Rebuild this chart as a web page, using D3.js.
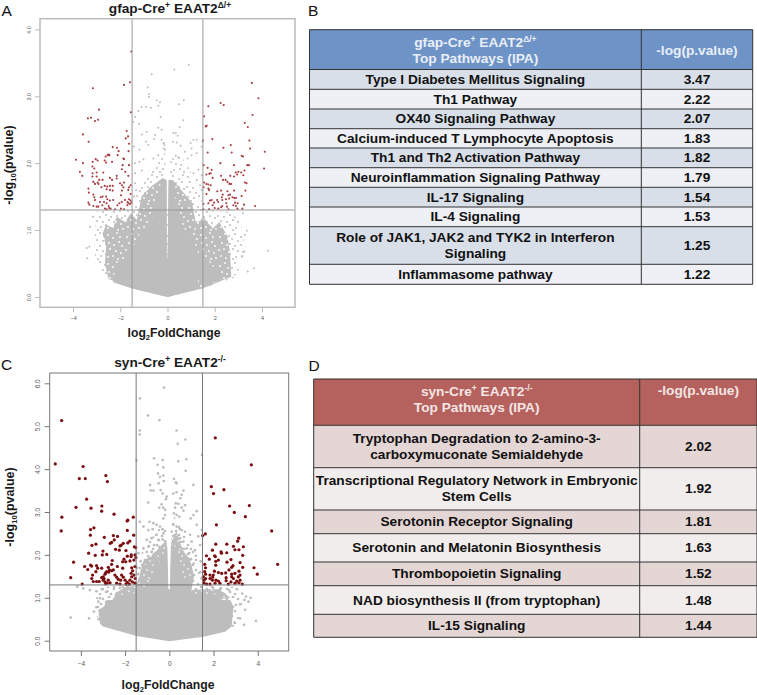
<!DOCTYPE html>
<html><head><meta charset="utf-8">
<script src="https://cdn.jsdelivr.net/npm/d3@7/dist/d3.min.js"></script>
<style>html,body{margin:0;padding:0;background:#fff}svg{display:block}text{font-family:"Liberation Sans",Arial,sans-serif}</style>
</head><body><div id="c"></div>
<script>
// ---------- Panel A data (log2FC, -log10 p) ----------
const aRed=[[-1.53,3.67],[-1.59,3.21],[-1.84,3.17],[-3.16,3.12],[-2.9,2.8],[-3.37,2.67],[-3.24,2.68],[-2.94,2.65],[-3.07,2.63],[-1.55,2.76],[-1.73,2.48],[-1.67,2.4],[-1.77,2.37],[-3.58,2.43],[-3.34,2.32],[-1.63,2.29],[-2.32,2.24],[-2.14,2.23],[-2.07,2.18],[-1.65,2.18],[-2.49,2.13],[-2.53,2.12],[-2.46,2.12],[-2.62,2.1],[-2.11,2.12],[-1.87,2.07],[-1.84,2.06],[-3.88,2.05],[-3.58,2],[-3.04,2.06],[-2.96,2.04],[-3.17,2.02],[-2.66,2.04],[-2.6,2.01],[-2.35,2.02],[-1.9,1.97],[-1.63,1.97],[-3.18,1.95],[-3.1,1.92],[-1.93,1.91],[-2.72,1.86],[-3.71,1.87],[-3.61,1.81],[-3.17,1.85],[-3,1.86],[-3,1.8],[-3.18,1.8],[-1.66,1.81],[-1.79,1.87],[-2.15,1.81],[-2.44,1.78],[-2.35,1.75],[-2.75,1.75],[-2.89,1.75],[-2.15,1.77],[-3.14,1.72],[-2.96,1.71],[-2.92,1.69],[-3.07,1.69],[-2.66,1.66],[-2.55,1.65],[-2.44,1.66],[-2.32,1.66],[-2.8,1.64],[-2.01,1.7],[-1.84,1.71],[-1.93,1.67],[-1.87,1.64],[-1.56,1.67],[-1.63,1.64],[-3.35,1.62],[-3.33,1.56],[-2.58,1.61],[-2.44,1.6],[-2.32,1.59],[-1.93,1.59],[-1.66,1.6],[-1.97,1.52],[-1.56,1.54],[-3.14,1.53],[-3.1,1.49],[-3.07,1.45],[-2.83,1.49],[-2.75,1.5],[-2.6,1.5],[-2.55,1.46],[-2.86,1.42],[-2.69,1.42],[-2.44,1.44],[-2.3,1.45],[-3.35,1.41],[-3.31,1.38],[-3.14,1.36],[-3,1.35],[-2.76,1.37],[-2.58,1.4],[-2.49,1.36],[-2.41,1.32],[-2.22,1.31],[-2.12,1.37],[-2.04,1.4],[-1.94,1.42],[-1.8,1.45],[-1.97,1.32],[-1.84,1.31],[-1.69,1.42],[-1.63,1.46],[-1.56,1.44],[-1.66,1.4],[-1.59,1.39],[-1.53,1.41],[-1.7,1.37],[-2.65,1.32],[-2.58,1.31],[-2.47,1.33],[-2.93,1.35],[3.57,3.2],[3.85,2.97],[2.25,2.9],[2.38,2.87],[1.73,2.85],[3.6,2.72],[1.55,2.7],[3.27,2.6],[3.4,2.54],[1.66,2.56],[1.62,2.55],[3.47,2.34],[1.9,2.36],[1.5,2.34],[2.68,2.27],[2.37,2.23],[3.5,2.22],[4.12,2.17],[1.7,2.16],[2.72,2.16],[3.14,2.11],[3.2,2.1],[2.24,2],[3.45,1.97],[3.38,1.97],[2.82,1.97],[4.09,1.92],[1.53,1.97],[1.7,1.93],[1.87,1.9],[1.65,1.83],[1.77,1.84],[1.83,1.85],[1.91,1.78],[3.26,1.89],[3.12,1.86],[3,1.87],[2.89,1.86],[2.95,1.83],[3.21,1.82],[2.82,1.8],[2.66,1.81],[2.27,1.81],[2.35,1.75],[2.46,1.75],[2.54,1.72],[2.62,1.69],[2.69,1.69],[3.28,1.71],[3.35,1.7],[1.55,1.71],[1.65,1.69],[1.73,1.68],[1.83,1.67],[1.53,1.64],[1.73,1.62],[1.76,1.6],[2.11,1.58],[2.27,1.59],[2.54,1.58],[2.82,1.59],[3.3,1.59],[1.65,1.54],[2.65,1.53],[2.34,1.53],[2.58,1.52],[3.14,1.51],[2.3,1.49],[2.75,1.49],[2.83,1.48],[2.9,1.48],[1.8,1.44],[1.87,1.45],[2.1,1.45],[1.97,1.41],[2.15,1.42],[2.32,1.45],[2.48,1.46],[2.61,1.47],[2.86,1.41],[2.97,1.4],[2.79,1.37],[2.49,1.4],[1.52,1.39],[1.73,1.4],[1.91,1.37],[3.24,1.38],[3.71,1.36],[2.32,1.36],[2.52,1.35],[2.9,1.36],[3.17,1.32],[2.15,1.32],[2.27,1.34],[2.58,1.31],[1.76,1.31],[1.52,1.31],[2.96,1.32],[2.0,1.33]];
const aGrey=[[.9,3.47],[.29,3.4],[.69,2.94],[.49,2.88],[.67,2.64],[.52,2.54],[.25,2.45],[.35,2.45],[.43,2.41],[1.1,2.35],[1.24,2.35],[.98,2.3],[.23,2.32],[.39,2.31],[.56,2.26],[1.48,2.32],[1.45,2.25],[1.02,2.22],[.74,2.17],[1.24,2.15],[1.02,2.12],[.85,2.07],[.35,2.11],[.46,2.09],[1.31,1.9],[1.1,1.85],[1.45,1.82],[1.24,1.75],[1.38,1.67],[1.45,1.6],[-.67,3.33],[-.84,3.13],[-.78,3.03],[-.78,2.99],[-.46,2.94],[-.32,2.91],[-.39,2.86],[-.7,2.83],[-.91,2.84],[-1.09,2.84],[-1.23,2.78],[-1.37,2.69],[-1.45,2.62],[-1.2,2.59],[-.29,2.69],[-.39,2.53],[-.25,2.5],[-.88,2.47],[-1.08,2.43],[-.53,2.42],[-.57,2.36],[-.25,2.35],[-.15,2.3],[-.15,2.22],[-.91,2.32],[-.81,2.27],[-1.42,2.25],[-1.19,2.2],[-.39,2.12],[-.6,2.07],[-1.02,2.06],[-1.19,2.02],[-1.37,2],[-1.09,1.89],[-1.37,1.85],[-1.37,1.7],[-1.33,1.6],[-1.42,1.5],[4.25,.69],[3.67,.43],[3.4,.38],[-3.42,.73],[-3.31,.75],[-3.4,.58],[-3.28,1.05],[3.36,.99],[3.2,1.25],[3.28,.93],[3.15,.6],[-.17,2.3],[-.13,2.27],[-.1,2.2],[3.25,.68],[-3.15,1.2]];
const aFringe=[[-2.8,.33],[-3.05,.5],[-3.1,.85],[-3,1.28],[-1.5,1.32],[-1.4,1.5],[-1.15,1.7],[-.95,1.85],[-.6,1.95],[-.3,2.15],[-.1,2.2],[-.05,1.3],[.05,1.3],[.08,2],[.3,2.12],[.6,2.1],[.95,1.9],[1.3,1.6],[1.45,1.45],[1.45,1.3],[2.7,1.27],[3.1,1.1],[3.3,.75],[3.05,.42],[2.79,.28],[1.52,.13],[0,0],[-1.52,.13]];
const aMid=[[-2.5,.27],[-2.65,.5],[-2.6,.75],[-2.75,.95],[-2.6,1.08],[-2.3,1.03],[-2.15,1.2],[-1.8,1.12],[-1.55,1.25],[-1.3,1.15],[-1.1,1.5],[-.7,1.65],[-.2,1.78],[-.04,1.75],[-.03,.58],[.01,.58],[.05,1.75],[.3,1.72],[.7,1.55],[1.05,1.4],[1.2,1.1],[1.55,1.18],[1.9,1.02],[2.2,1.12],[2.55,.9],[2.65,.65],[2.7,.3],[1.52,.13],[0,0],[-1.52,.13]];
const aSolid=[[-1.52,.13],[-2.3,.22],[-2.2,.42],[-1.8,.55],[-1.65,.75],[-1.3,.8],[-1.15,1],[-.75,1.05],[-.5,1.4],[-.25,1.75],[-.04,1.75],[-.03,.58],[0,.58],[.05,1.75],[.25,1.75],[.38,1.3],[.8,.95],[1.1,.85],[1.3,.65],[1.7,.55],[2,.42],[2.35,.28],[1.5,.14],[1.32,.3],[1.22,.12],[0,0]];

// ---------- Panel C data ----------
const cRed=[[-4.87,5.13],[-5.16,4.12],[-3.9,4.06],[-4.07,3.78],[-3.8,3.78],[-2.87,3.85],[-2.8,3.71],[-3.74,3.3],[-4.22,3.11],[-3.05,3.14],[-3.06,3.02],[-3.54,3.09],[-2.5,2.95],[-4.86,2.88],[-4.89,2.56],[-1.63,2.88],[-1.88,2.81],[-1.91,2.79],[-3.41,2.63],[-3.56,2.59],[-1.9,2.57],[-3.57,2.46],[-1.61,2.46],[-2.94,2.41],[-2.53,2.45],[-2.34,2.43],[-2.67,2.27],[-2.61,2.29],[-2.49,2.35],[-1.79,2.32],[-1.88,2.28],[-2.08,2.27],[-2.17,2.23],[-2.23,2.21],[-3.32,2.25],[-3.5,2.22],[-1.58,2.19],[-1.52,2.17],[-2.43,2.13],[-2.26,2.11],[-1.96,2.1],[-3,2.09],[-3.65,2.04],[-3.03,2],[-2.83,2.01],[-3.35,1.99],[-1.72,2],[-1.55,2],[-1.51,1.94],[-1.9,1.97],[-1.73,1.96],[-2.05,1.9],[-2.11,1.84],[-1.97,1.84],[-1.78,1.86],[-2.58,1.87],[-4.33,1.83],[-1.6,1.88],[-3.56,1.76],[-3.51,1.74],[-2.61,1.78],[-3.83,1.73],[-3.69,1.66],[-3.29,1.75],[-3.24,1.69],[-3.06,1.69],[-2.76,1.71],[-2.35,1.73],[-2.11,1.69],[-1.7,1.7],[-1.55,1.73],[-2.53,1.65],[-3.32,1.61],[-3.47,1.53],[-4.46,1.47],[-3.51,1.45],[-3.44,1.38],[-3.29,1.38],[-3.17,1.38],[-3.94,1.32],[-2.99,1.49],[-2.91,1.55],[-2.83,1.61],[-2.71,1.65],[-2.61,1.63],[-2.99,1.41],[-2.91,1.37],[-2.81,1.34],[-2.68,1.35],[-3.06,1.47],[-2.76,1.41],[-2.46,1.53],[-2.38,1.48],[-2.31,1.43],[-2.16,1.53],[-2.08,1.48],[-2.2,1.41],[-2,1.41],[-2.23,1.32],[-1.9,1.36],[-1.78,1.41],[-1.7,1.49],[-1.73,1.57],[-1.66,1.63],[-1.6,1.53],[-1.54,1.45],[-1.67,1.37],[-1.81,1.32],[-1.96,1.32],[-1.55,1.34],[-2.38,1.34],[-2.95,1.45],[-2.88,1.58],[-2.88,1.33],[-2.74,1.6],[2.08,4.73],[3.71,4.1],[1.9,3.59],[2.47,3.52],[2,3.43],[2.73,3.14],[3.62,3.15],[2.94,2.99],[3.44,2.89],[2.13,2.7],[4.63,2.56],[1.63,2.49],[1.51,2.45],[3.14,2.39],[3.09,2.32],[2.1,2.25],[2.6,2.25],[2.9,2.2],[3.35,2.19],[2.97,2.12],[3.15,2.12],[1.95,2.11],[2.34,2.07],[2.36,2.04],[2.6,2.05],[3.32,1.99],[1.68,1.98],[2.05,1.98],[2.08,1.96],[1.81,1.9],[2.22,1.88],[2.1,1.85],[2.61,1.83],[2.79,1.89],[3.2,1.82],[1.6,1.78],[2.1,1.76],[4.9,1.78],[2.88,1.75],[2.82,1.71],[1.64,1.7],[3.32,1.71],[3.83,1.7],[2.7,1.65],[2.04,1.62],[1.6,1.61],[1.64,1.55],[3.98,1.55],[2.22,1.59],[2.37,1.57],[2.55,1.58],[2.82,1.55],[2.97,1.57],[3.15,1.62],[3.2,1.53],[1.84,1.53],[1.99,1.53],[1.54,1.49],[1.64,1.45],[1.84,1.45],[1.95,1.41],[2.11,1.41],[2.22,1.39],[2.57,1.47],[2.82,1.49],[2.9,1.45],[3.12,1.49],[3.2,1.41],[2.57,1.4],[3.05,1.39],[2.07,1.34],[1.84,1.32],[2.29,1.34],[2.67,1.32],[2.97,1.34],[3.15,1.35],[3.3,1.32],[1.57,1.41],[1.57,1.34],[1.69,1.32],[1.96,1.48],[2.79,1.37]];
const cGrey=[[-.24,5.9],[-1.33,5.65],[-.96,5.25],[-.45,5.14],[-1.34,4.9],[-1.34,4.81],[.33,4.9],[.73,4.69],[.38,4.59],[1.48,4.33],[-1.48,4.2],[-.69,4.25],[-.3,4.21],[.41,4.18],[.77,4.23],[-.53,4.1],[.74,3.96],[-.27,4.04],[-.51,3.9],[-.27,3.85],[-.42,3.82],[.21,3.77],[.3,3.69],[.33,3.67],[-.25,3.72],[-.48,3.67],[1.09,3.63],[-.87,3.63],[-.84,3.5],[-.72,3.5],[-.39,3.51],[-.3,3.43],[.64,3.5],[.18,3.43],[.33,3.46],[.56,3.4],[-.12,3.36],[.5,3.32],[-.15,3.3],[-.95,3.22],[.29,3.2],[.41,3.19],[-.35,3.18],[-.27,3.1],[-.45,3.1],[.71,3.16],[.56,3.1],[.26,3.1],[1.24,3.02],[.64,3.03],[-.19,3.05],[-.19,2.93],[.21,2.97],[.33,2.93],[.45,2.89],[1.09,2.93],[.97,2.85],[-1.33,2.77],[-.9,2.77],[-.27,2.85],[-1.17,2.66],[-.72,2.74],[-.95,2.58],[-.75,2.6],[-.57,2.7],[-.42,2.66],[-.31,2.6],[.18,2.7],[.33,2.66],[.48,2.6],[.71,2.54],[1.24,2.7],[1.47,2.58],[1.31,2.43],[.94,2.47],[-.57,2.47],[-.27,2.5],[.11,2.54],[.26,2.47],[-1.02,2.35],[-.8,2.39],[-.5,2.35],[-.3,2.36],[.48,2.39],[.64,2.31],[1.01,2.31],[-1.17,2.15],[-.95,2.19],[-.69,2.23],[-.45,2.19],[-.27,2.23],[.18,2.31],[.33,2.23],[.56,2.15],[.79,2.15],[1.16,2.11],[1.39,2.23],[-1.4,2.04],[-1.02,2.07],[-.8,2.07],[.9,2.04],[1.2,1.98],[1.42,1.85],[1.1,1.8],[.98,1.9],[-1.3,1.85],[-1.15,1.8],[-1.45,1.7],[-1.42,1.55],[1.4,1.6],[1.45,1.45],[-4.46,.54],[-3.63,.52],[3.92,.46],[3.38,.37],[-3.41,.68],[-4.16,1.26],[-3.89,1.22],[3.58,.91],[3.68,1],[3.47,1.03],[3.43,.72],[3.2,.52],[-3.59,1.18],[-3.13,.99],[-3.21,.91],[-3.3,1.15],[-3.05,1.2],[-2.8,1.15],[-2.5,1.25],[-2.1,1.25],[-1.9,1.28],[1.95,1.25],[2.3,1.2],[2.7,1.18],[3.05,1.2],[3.3,1.1],[3.4,.95],[3.2,.85],[-3.3,.78],[-3.2,.5],[2.95,.42]];
const cFringe=[[-1.5,1.3],[-1.4,1.8],[-1.15,2.2],[-.85,2.35],[-.5,2.6],[-.15,2.75],[-.05,1.05],[.05,1.05],[.1,2.75],[.35,3],[.7,2.45],[1.05,2.25],[1.3,1.8],[1.45,1.3],[3.1,1.25],[3.3,.9],[3.1,.4],[2.8,.3],[0,0],[-3,.33],[-3.3,.6],[-3.3,1],[-3,1.25]];
const cMid=[[-2.46,1.1],[-2,1.25],[-1.5,1.28],[-1.33,1.57],[-1.18,1.85],[-.8,2],[-.57,2.1],[-.12,2.35],[-.06,1.2],[.04,1.2],[.09,2.3],[.33,2.55],[.6,2.1],[.95,1.9],[1.12,1.5],[1,1.18],[1.54,1.2],[2.29,1.2],[2.75,1],[1.5,.9],[-1.5,.9]];
const cSolid=[[-3,.33],[-3.14,.4],[-3.21,.72],[-2.95,.8],[-2.83,.95],[-2.5,.95],[-2.46,1.1],[-2,1.02],[-1.55,1.12],[-1.33,1.2],[-.9,1.25],[-.6,1.7],[-.3,1.95],[-.09,2.2],[-.03,1],[.02,1],[.07,2.2],[.28,2.2],[.5,1.6],[.9,1.3],[1.05,1.1],[1.54,1.05],[2.1,1.08],[2.4,.95],[2.75,.95],[2.9,.8],[2.82,.33],[2.52,.21],[1.54,.09],[0,-.01],[-1.48,.11]];

const xTicks=[-4,-2,0,2,4];
const aYTicks=[0,1,2,3,4];
const cYTicks=[0,1,2,3,4,5,6];

// hand-placed stipple texture tiles for the over-plotted point clouds
const stippleDots=[[2,3],[7,1],[12,4],[18,2],[24,5],[28,1],[4,8],[10,9],[15,7],[21,9],[27,8],[1,13],[7,14],[13,12],[18,14],[24,13],[29,15],[4,18],[10,19],[16,17],[21,19],[26,20],[2,23],[8,24],[13,22],[19,25],[25,24],[5,27],[16,27],[29,27]];
const speckDots=[[3,5],[8,2],[11,7],[15,3],[20,6],[24,1],[27,5],[5,11],[10,13],[16,11],[21,13],[26,10],[29,14],[2,18],[7,17],[12,20],[17,17],[23,19],[28,21],[4,24],[9,26],[15,25],[20,24],[25,27],[30,26]];

// ---------- Table data ----------
const bPathways=["Type I Diabetes Mellitus Signaling","Th1 Pathway","OX40 Signaling Pathway","Calcium-induced T Lymphocyte Apoptosis","Th1 and Th2 Activation Pathway","Neuroinflammation Signaling Pathway","IL-17 Signaling","IL-4 Signaling","Role of JAK1, JAK2 and TYK2 in Interferon\nSignaling","Inflammasome pathway"];
const bValues=["3.47","2.22","2.07","1.83","1.82","1.79","1.54","1.53","1.25","1.22"];
const dPathways=["Tryptophan Degradation to 2-amino-3-\ncarboxymuconate Semialdehyde","Transcriptional Regulatory Network in Embryonic\nStem Cells","Serotonin Receptor Signaling","Serotonin and Melatonin Biosynthesis","Thrombopoietin Signaling","NAD biosynthesis II (from tryptophan)","IL-15 Signaling"];
const dValues=["2.02","1.92","1.81","1.63","1.52","1.48","1.44"];
const bRowEdges=[69.5,89.3,109,128.7,148,167.7,187.3,207,226.7,264.3,284.3];
const dRowEdges=[425.3,467.7,510,533.7,562,585.7,614.3,637.3];

const svg=d3.select("#c").append("svg").attr("width",757).attr("height",695);
const defs=svg.append("defs");
defs.append("filter").attr("id","soft").append("feGaussianBlur").attr("stdDeviation",.3);
function tile(id,base,dots,r,col){
  const p=defs.append("pattern").attr("id",id).attr("patternUnits","userSpaceOnUse").attr("width",31).attr("height",29);
  if(base)p.append("rect").attr("width",31).attr("height",29).attr("fill",base);
  p.selectAll("circle").data(dots).join("circle").attr("cx",d=>d[0]).attr("cy",d=>d[1]).attr("r",r).attr("fill",col);
}
tile("stippleA",null,stippleDots,1,"#bdbdbd");
tile("stippleC",null,stippleDots,1.35,"#bdbdbd");
tile("speckA","#bebebe",speckDots,.9,"#fff");
tile("speckC","#bebebe",speckDots,.85,"#fff");

function rich(sel,parts,size){
  let shift=0;
  parts.forEach(([t,k])=>{
    const d=k==="sup"?-size*.38:k==="sub"?size*.25:0;
    sel.append("tspan").attr("dy",d-shift).attr("font-size",k?size*.62:size).text(t);
    shift=d;
  });
}
function volcano(o){
  const x=d3.scaleLinear().domain(o.xd).range(o.xr), y=d3.scaleLinear().domain(o.yd).range(o.yr);
  const g=svg.append("g");
  const ln=d3.line().x(d=>x(d[0])).y(d=>y(d[1])).curve(d3.curveLinearClosed);
  const pts=g.append("g").attr("filter","url(#soft)");
  o.clouds.forEach(([c,col])=>pts.append("path").attr("d",ln(c)).attr("fill",col));
  pts.selectAll("circle.g").data(o.grey).join("circle").attr("class","g").attr("cx",d=>x(d[0])).attr("cy",d=>y(d[1])).attr("r",o.rg).attr("fill","#bdbdbd");
  pts.selectAll("circle.r").data(o.red).join("circle").attr("class","r").attr("cx",d=>x(d[0])).attr("cy",d=>y(d[1])).attr("r",o.rr).attr("fill",o.redCol);
  [-1.5,1.5].forEach(v=>g.append("line").attr("x1",x(v)).attr("x2",x(v)).attr("y1",o.yr[0]).attr("y2",o.yr[1]).attr("stroke",o.lineCol).attr("stroke-width",1));
  g.append("line").attr("x1",o.xr[0]).attr("x2",o.xr[1]).attr("y1",y(1.3)).attr("y2",y(1.3)).attr("stroke",o.lineCol).attr("stroke-width",1);
  g.append("rect").attr("x",o.xr[0]).attr("y",o.yr[1]).attr("width",o.xr[1]-o.xr[0]).attr("height",o.yr[0]-o.yr[1]).attr("fill","none").attr("stroke",o.boxCol).attr("stroke-width",o.boxW);
  const ax=g.append("g").attr("transform",`translate(0,${o.yr[0]})`).call(d3.axisBottom(x).tickValues(xTicks).tickSize(o.tick).tickPadding(o.pad).tickFormat(d=>String(d).replace("-","\u2212")));
  const ay=g.append("g").attr("transform",`translate(${o.xr[0]},0)`).call(d3.axisLeft(y).tickValues(o.yTicks).tickSize(o.tick).tickPadding(o.pad));
  [ax,ay].forEach(a=>{a.select(".domain").remove();a.selectAll("line").attr("stroke",o.boxCol);a.selectAll("text").attr("fill","#555").attr("font-size",o.tickFont);});
  ay.selectAll("text").attr("transform",`rotate(-90 ${-o.tick-o.pad} 0)`).attr("text-anchor","middle").attr("x",-o.tick-o.pad).attr("dy",0);
  const t=svg.append("text").attr("x",o.titleX).attr("y",o.titleY).attr("text-anchor","middle").attr("font-weight","bold").attr("fill","#1a1a1a");
  rich(t,o.title,13.7);
  const xl=svg.append("text").attr("x",o.xlX).attr("y",o.xlY).attr("text-anchor","middle").attr("font-weight","bold").attr("fill","#1a1a1a");
  rich(xl,[["log"],["2","sub"],["FoldChange"]],12.2);
  const yl=svg.append("text").attr("transform",`translate(${o.ylX},${o.ylY}) rotate(-90)`).attr("text-anchor","middle").attr("font-weight","bold").attr("fill","#1a1a1a");
  rich(yl,[["-log"],["10","sub"],["(pvalue)"]],12.5);
}
function table(o){
  const g=svg.append("g");
  g.append("rect").attr("x",o.x0).attr("y",o.y0).attr("width",o.x2-o.x0).attr("height",o.edges[0]-o.y0).attr("fill",o.head);
  const rows=o.names.map((n,i)=>({n,v:o.vals[i],i,t:o.edges[i],b:o.edges[i+1]}));
  g.selectAll("rect.row").data(rows).join("rect").attr("class","row").attr("x",o.x0).attr("y",d=>d.t).attr("width",o.x2-o.x0).attr("height",d=>d.b-d.t).attr("fill",d=>d.i%2?o.alt:o.band);
  const cx0=(o.x0+o.x1)/2,cx1=(o.x1+o.x2)/2;
  rows.forEach(d=>{
    const lines=d.n.split("\n"),mid=(d.t+d.b)/2;
    lines.forEach((l,k)=>g.append("text").attr("x",cx0).attr("y",mid+4.6+(k-(lines.length-1)/2)*16).attr("text-anchor","middle").attr("font-weight","bold").attr("font-size",o.fs).attr("fill","#111").text(l));
    g.append("text").attr("x",cx1).attr("y",mid+4.6).attr("text-anchor","middle").attr("font-weight","bold").attr("font-size",o.fs).attr("fill","#111").text(d.v);
  });
  const h1=g.append("text").attr("x",cx0).attr("y",o.hy).attr("text-anchor","middle").attr("font-weight","bold").attr("fill",o.headText);
  rich(h1,o.hTitle,o.fs);
  g.append("text").attr("x",cx0).attr("y",o.hy+16).attr("text-anchor","middle").attr("font-weight","bold").attr("fill",o.headText).attr("font-size",o.fs).text("Top Pathways (IPA)");
  g.append("text").attr("x",cx1).attr("y",o.hvy).attr("text-anchor","middle").attr("font-weight","bold").attr("fill",o.headText).attr("font-size",o.fs).text("-log(p.value)");
  [o.y0,...o.edges].forEach(e=>g.append("line").attr("x1",o.x0).attr("x2",o.x2).attr("y1",e).attr("y2",e).attr("stroke","#333"));
  [o.x0,o.x1,o.x2].forEach(v=>g.append("line").attr("x1",v).attr("x2",v).attr("y1",o.y0).attr("y2",o.edges[o.edges.length-1]).attr("stroke","#333"));
}
volcano({xd:[-5.4,5.4],xr:[40,295],yd:[-.155,4.16],yr:[307.3,18.7],red:aRed,grey:aGrey,clouds:[[aFringe,"url(#stippleA)"],[aMid,"url(#speckA)"],[aSolid,"#bdbdbd"]],rg:1,rr:1.05,redCol:"#a83a3e",lineCol:"#999",boxCol:"#bbb",boxW:1.5,tick:5,pad:4,tickFont:5.5,yTicks:aYTicks,title:[["gfap-Cre"],["+","sup"],[" EAAT2"],["Δ/+","sup"]],titleX:170,titleY:13,xlX:174,xlY:337,ylX:13,ylY:165});
volcano({xd:[-5.41,5.4],xr:[49.7,288.7],yd:[-.24,6.24],yr:[651,373],red:cRed,grey:cGrey,clouds:[[cFringe,"url(#stippleC)"],[cMid,"url(#speckC)"],[cSolid,"#bdbdbd"]],rg:1.35,rr:1.6,redCol:"#7a0a0e",lineCol:"#777",boxCol:"#777",boxW:1,tick:5,pad:5,tickFont:6.5,yTicks:cYTicks,title:[["syn-Cre"],["+","sup"],[" EAAT2"],["-/-","sup"]],titleX:170,titleY:367,xlX:168,xlY:689,ylX:14,ylY:507});
table({x0:309.5,x1:641.3,x2:752.7,y0:29.7,edges:bRowEdges,names:bPathways,vals:bValues,head:"#6e93c6",band:"#d9dfe9",alt:"#eef0f6",headText:"#e9eff8",fs:13.7,hTitle:[["gfap-Cre"],["+","sup"],[" EAAT2"],["Δ/+","sup"]],hy:47,hvy:55});
table({x0:313.7,x1:639.7,x2:757,y0:379,edges:dRowEdges,names:dPathways,vals:dValues,head:"#b5615e",band:"#e3d6d5",alt:"#f2eded",headText:"#f3e6e4",fs:13.7,hTitle:[["syn-Cre"],["+","sup"],[" EAAT2"],["-/-","sup"]],hy:396,hvy:395});
[["A",1.5,15.5],["B",308,15.5],["C",1,370],["D",308.5,370.7]].forEach(([t,x,y])=>svg.append("text").attr("x",x).attr("y",y).attr("font-size",15.5).attr("fill","#111").text(t));
</script></body></html>
